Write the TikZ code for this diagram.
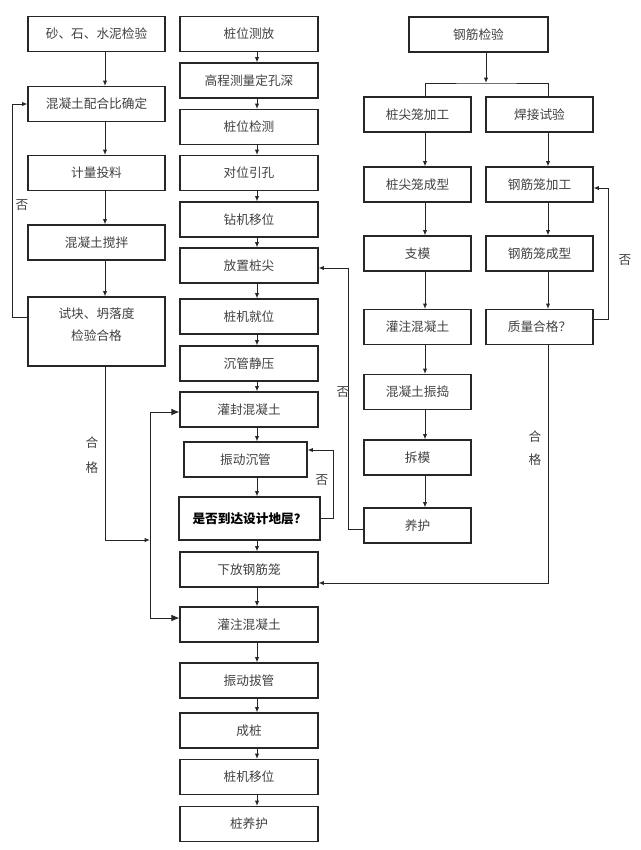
\documentclass[tikz,border=0pt]{standalone}
\usepackage{fontspec}
\setmainfont{Noto Sans CJK SC}
\usetikzlibrary{arrows.meta,positioning,calc}

\begin{document}
\begin{tikzpicture}[x=0.75pt,y=-0.75pt,
    box/.style={draw=black!85, line width=0.8pt, minimum height=26.25pt, inner sep=0pt,
      align=center, font=\fontsize{9.5}{16}\selectfont, text=black!75},
    lbox/.style={box, minimum width=102.75pt},
    mbox/.style={box, minimum width=103.5pt},
    rbox/.style={box, minimum width=80.25pt},
    lbl/.style={font=\fontsize{9.5}{18.75}\selectfont, text=black!75, align=center, inner sep=0pt},
    arr/.style={draw=black!85, line width=0.7pt, -{Latex[length=4pt,width=3.2pt]}},
    bigarr/.style={draw=black!85, line width=0.7pt, -{Latex[length=6pt,width=5pt]}}
  ]
  \useasboundingbox (0,0) rectangle (640,850);
  % arrow lines
  \coordinate (lx) at (105,0);
  \coordinate (mx) at (257,0);
  \coordinate (ra) at (425,0);
  \coordinate (rb) at (548,0);

  % concrete
  \node[lbox] (ssc) at (96.5,34) {砂、石、水泥检验};
  \node[lbox] (pb) at (96.5,104) {混凝土配合比确定};
  \node[lbox] (jl) at (96.5,173) {计量投料};
  \node[lbox] (jb) at (96.5,242.5) {混凝土搅拌};
  \node[lbox, minimum height=51.75pt] (sk) at (96.5,331.5) {};
  \node[lbl, font=\fontsize{9.5}{16.5}\selectfont] (skt) at (96.5,325) {试块、坍落度\\检验合格};

  % pile
  \node[mbox] (zwcf) at (249,34) {桩位测放};
  \node[mbox] (gc) at (249,80.5) {高程测量定孔深};
  \node[mbox] (zwjc) at (249,127) {桩位检测};
  \node[mbox] (dw) at (249,173) {对位引孔};
  \node[mbox] (zj) at (249,219.5) {钻机移位};
  \node[mbox] (fz) at (249,265.5) {放置桩尖};
  \node[mbox] (zjjw) at (249,316.5) {桩机就位};
  \node[mbox] (cg) at (249,363.5) {沉管静压};
  \node[mbox] (gf) at (249,409.5) {灌封混凝土};
  \node[box, minimum width=92.25pt] (zd) at (245.5,459.5) {振动沉管};
  \node[box, minimum width=105.75pt, minimum height=32.25pt, font=\fontsize{9.5}{16}\selectfont\bfseries, text=black]
    (sf) at (249.5,518.5) {是否到达设计地层？};
  \node[mbox] (xf) at (249,569.5) {下放钢筋笼};
  \node[mbox] (gz) at (249,624.5) {灌注混凝土};
  \node[mbox] (zdbg) at (249,680.5) {振动拔管};
  \node[mbox] (cz) at (249,730.5) {成桩};
  \node[mbox] (zjyw) at (249,777) {桩机移位};
  \node[mbox] (zyh) at (249,824) {桩养护};

  % steel
  \node[box, minimum width=104.25pt] (gjjy) at (478.5,34.5) {钢筋检验};
  \node[rbox] (zjjg) at (417.5,114.5) {桩尖笼加工};
  \node[rbox] (hj) at (539.5,114.5) {焊接试验};
  \node[rbox] (zjcx) at (417.5,184.5) {桩尖笼成型};
  \node[rbox] (gljg) at (539.5,184.5) {钢筋笼加工};
  \node[rbox] (zm) at (417.5,253.5) {支模};
  \node[rbox] (glcx) at (539.5,253.5) {钢筋笼成型};
  \node[rbox] (rgz) at (417.5,327) {灌注混凝土};
  \node[rbox] (zl) at (539.5,327) {质量合格？};
  \node[rbox] (zdd) at (417.5,392) {混凝土振捣};
  \node[rbox] (cm) at (417.5,457.5) {拆模};
  \node[rbox] (yh) at (417.5,525.5) {养护};

  % straight arrows
  \foreach \a/\b in {ssc/pb, pb/jl, jl/jb, jb/sk}
    \draw[arr] (\a.south -| lx) -- (\b.north -| lx);
  \foreach \a/\b in {zwcf/gc, gc/zwjc, zwjc/dw, dw/zj, zj/fz, fz/zjjw, zjjw/cg, cg/gf,
      gf/zd, zd/sf, sf/xf, xf/gz, gz/zdbg, zdbg/cz, cz/zjyw, zjyw/zyh}
    \draw[arr] (\a.south -| mx) -- (\b.north -| mx);
  \foreach \a/\b in {zjjg/zjcx, zjcx/zm, zm/rgz, rgz/zdd, zdd/cm, cm/yh}
    \draw[arr] (\a.south -| ra) -- (\b.north -| ra);
  \foreach \a/\b in {hj/gljg, gljg/glcx, glcx/zl}
    \draw[arr] (\a.south -| rb) -- (\b.north -| rb);

  % split under steel check
  \coordinate (split) at (486,83);
  \draw[arr] (gjjy.south -| split) -- (split);
  \draw[draw=black!85, line width=0.7pt] (zjjg.north -| ra) |- (split) -| (hj.north -| rb);

  % loops
  \draw[arr] ($(sk.west)+(0,-14.5)$) -- ++(-15,0) |- (pb.west);
  \node[lbl] (no1) at (22,205) {否};
  \coordinate (hg) at (150,540);
  \draw[arr] (sk.south -| lx) |- (hg);
  \draw[bigarr] (hg) |- ($(gf.west)+(0,2.5)$);
  \draw[bigarr] (hg) |- ($(gz.west)+(0,-6.5)$);
  \node[lbl] (ok1) at (92,455) {合\\格};

  \draw[arr] (sf.east) -- ++(13,0) |- ($(zd.east)+(0,-9.5)$);
  \node[lbl] (no2) at (322,480) {否};

  \draw[arr] ($(zl.east)+(0,-8)$) -- ++(15,0) |- ($(gljg.east)+(0,3.5)$);
  \node[lbl] (no3) at (625,260) {否};
  \draw[arr] (zl.south -| rb) |- ($(xf.east)+(0,13.5)$);
  \node[lbl, font=\fontsize{9.5}{17}\selectfont] (ok2) at (535,448) {合\\格};

  \draw[arr] ($(yh.west)+(0,3.5)$) -- ++(-15,0) |- ($(fz.east)+(0,2.5)$);
  \node[lbl] (no4) at (343,392) {否};
\end{tikzpicture}
\end{document}
